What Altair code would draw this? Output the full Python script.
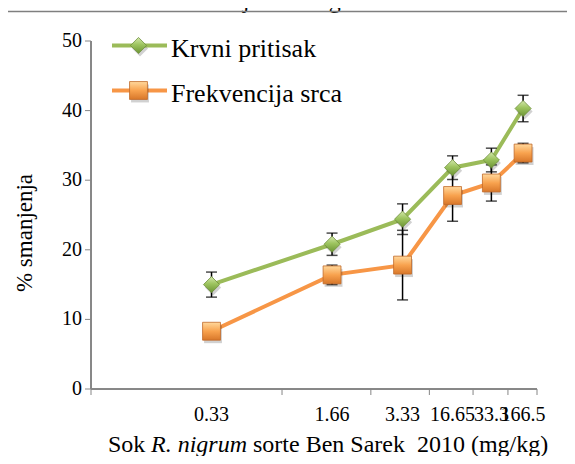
import altair as alt
import pandas as pd

# ---------------- data ----------------
doses = ["0.33", "1.66", "3.33", "16.65", "33.3", "166.5"]
series = ["Krvni pritisak", "Frekvencija srca"]
bp_mean = [15.0, 20.8, 24.4, 31.8, 32.9, 40.3]
bp_err = [1.8, 1.6, 2.2, 1.7, 1.7, 1.9]
hr_mean = [8.3, 16.4, 17.8, 27.8, 29.6, 33.9]
hr_err = [1.0, 1.4, 5.0, 3.7, 2.6, 1.4]
y_ticks = [0, 10, 20, 30, 40, 50]
x_title_parts = ["Sok", "R. nigrum", "sorte Ben Sarek\u00a0 2010 (mg/kg)"]
y_title = "% smanjenja"
top_title = "frekvencija srčanog rada"

GREEN = "#9BBB59"
ORANGE = "#F79646"
AXIS_GRAY = "#868686"
FONT = "Liberation Serif"
W, H = 446, 348

rows = []
for s, means, errs in [(series[0], bp_mean, bp_err), (series[1], hr_mean, hr_err)]:
    for i, (d, m, e) in enumerate(zip(doses, means, errs)):
        rows.append({"idx": i + 1, "dose": d, "series": s, "mean": m,
                     "lo": m - e, "hi": m + e})
df = pd.DataFrame(rows)
xcat = pd.DataFrame({"idx": list(range(1, len(doses) + 1)), "dose": doses})
bounds = pd.DataFrame({"b": [i + 0.5 for i in range(len(doses) + 1)]})
yt = pd.DataFrame({"v": y_ticks})

x_scale = alt.Scale(type="log", domain=[0.5, len(doses) + 0.5], nice=False)
y_scale = alt.Scale(domain=[0, 50], nice=False, zero=True)


def X(field):
    return alt.X(field, scale=x_scale, axis=None)


def Y(field):
    return alt.Y(field, scale=y_scale, axis=None)


color = alt.Color("series:N", scale=alt.Scale(domain=series, range=[GREEN, ORANGE]),
                  legend=None)

base = alt.Chart(df)

# ----- axes drawn with the chart's own scales -----
y_dom = alt.Chart(yt).mark_rule(color=AXIS_GRAY, strokeWidth=1).encode(
    x=alt.value(0), y=alt.value(0), y2=alt.value(H))
y_tk = alt.Chart(yt).mark_rule(color=AXIS_GRAY, strokeWidth=1).encode(
    y=Y("v:Q"), x=alt.value(-6), x2=alt.value(0))
y_lab = alt.Chart(yt).mark_text(align="right", baseline="middle", font=FONT, fontSize=20,
                                color="black").encode(
    y=Y("v:Q"), x=alt.value(-9), text="v:Q")
x_dom = alt.Chart(yt).mark_rule(color=AXIS_GRAY, strokeWidth=1).encode(
    x=alt.value(0), x2=alt.value(W), y=alt.value(H))
x_tk = alt.Chart(bounds).mark_rule(color=AXIS_GRAY, strokeWidth=1).encode(
    x=X("b:Q"), y=alt.value(H), y2=alt.value(H + 6))
x_lab = alt.Chart(xcat).mark_text(align="center", baseline="alphabetic", font=FONT,
                                  fontSize=20, color="black").encode(
    x=X("idx:Q"), y=alt.value(H + 32), text="dose:N")
y_tt = alt.Chart(pd.DataFrame({"t": [y_title]})).mark_text(
    align="center", baseline="middle", angle=270, font=FONT, fontSize=23,
    color="black").encode(text="t:N", x=alt.value(-66), y=alt.value(192))

# ----- data marks -----
lines = base.mark_line(strokeWidth=4).encode(x=X("idx:Q"), y=Y("mean:Q"), color=color)

err = base.mark_rule(color="black", strokeWidth=1.5).encode(
    x=X("idx:Q"), y=Y("lo:Q"), y2="hi:Q")
cap_lo = base.mark_tick(orient="horizontal", size=11, thickness=1.5, color="black").encode(
    x=X("idx:Q"), y=Y("lo:Q"))
cap_hi = base.mark_tick(orient="horizontal", size=11, thickness=1.5, color="black").encode(
    x=X("idx:Q"), y=Y("hi:Q"))

green_grad = alt.LinearGradient(
    gradient="linear", x1=0, x2=0, y1=0, y2=1,
    stops=[alt.GradientStop(color="#d4e8ac", offset=0),
           alt.GradientStop(color="#9dc45f", offset=0.45),
           alt.GradientStop(color="#6c9434", offset=1)])
orange_grad = alt.LinearGradient(
    gradient="linear", x1=0, x2=0, y1=0, y2=1,
    stops=[alt.GradientStop(color="#ffd89c", offset=0),
           alt.GradientStop(color="#f8a24e", offset=0.5),
           alt.GradientStop(color="#d8772a", offset=1)])

SHAPES = [("diamond", 260, green_grad, "#6f8f3c"), ("square", 320, orange_grad, "#c0692a")]


def markers(sname, shape, size, grad, stroke):
    sub = base.transform_filter(alt.datum.series == sname)
    shadow = sub.mark_point(shape=shape, size=size, filled=True, fill="#000000",
                            opacity=0.18, strokeWidth=0, xOffset=1.5, yOffset=3).encode(
        x=X("idx:Q"), y=Y("mean:Q"))
    pts = sub.mark_point(shape=shape, size=size, filled=True, fill=grad, opacity=1,
                         stroke=stroke, strokeWidth=0.8).encode(x=X("idx:Q"), y=Y("mean:Q"))
    return [shadow, pts]


mk_green = markers(series[0], *SHAPES[0])
mk_orange = markers(series[1], *SHAPES[1])

# ----- legend (drawn manually) -----
legend_layers = []
for i, (sname, col) in enumerate(zip(series, [GREEN, ORANGE])):
    shape, size, grad, stroke = SHAPES[i]
    ly = 4.5 + 45 * i
    ldf = alt.Chart(pd.DataFrame({"s": [sname]}))
    legend_layers.append(ldf.mark_rule(color=col, strokeWidth=4).encode(
        x=alt.value(21), x2=alt.value(76), y=alt.value(ly)))
    legend_layers.append(ldf.mark_point(shape=shape, size=size, filled=True, fill="#000000",
                                        opacity=0.18, strokeWidth=0, xOffset=1.5, yOffset=3).encode(
        x=alt.value(47.5), y=alt.value(ly)))
    legend_layers.append(ldf.mark_point(shape=shape, size=size, filled=True, fill=grad,
                                        opacity=1, stroke=stroke, strokeWidth=0.8).encode(
        x=alt.value(47.5), y=alt.value(ly)))
    legend_layers.append(ldf.mark_text(align="left", baseline="alphabetic", font=FONT,
                                       fontSize=26, color="black").encode(
        text="s:N", x=alt.value(80), y=alt.value(ly + 11)))

# ----- x axis title with italic species name -----
t_df = pd.DataFrame({"t": x_title_parts})
title_y = 411
xt1 = alt.Chart(t_df.iloc[[0]]).mark_text(align="left", baseline="alphabetic", font=FONT,
                                           fontSize=24, color="black").encode(
    text="t:N", x=alt.value(17), y=alt.value(title_y))
xt2 = alt.Chart(t_df.iloc[[1]]).mark_text(align="left", baseline="alphabetic", font=FONT,
                                           fontSize=24, fontStyle="italic", color="black").encode(
    text="t:N", x=alt.value(60), y=alt.value(title_y))
xt3 = alt.Chart(t_df.iloc[[2]]).mark_text(align="left", baseline="alphabetic", font=FONT,
                                           fontSize=24, color="black").encode(
    text="t:N", x=alt.value(162), y=alt.value(title_y))

# ----- cropped header text and separator line -----
hdr = alt.Chart(pd.DataFrame({"t": [top_title]}))
hdr_text = hdr.mark_text(align="center", baseline="alphabetic", font=FONT, fontSize=24,
                         color="black").encode(text="t:N", x=alt.value(179), y=alt.value(-33))
hdr_line = hdr.mark_rule(color="#7f7f7f", strokeWidth=1.5).encode(
    x=alt.value(-83), x2=alt.value(476), y=alt.value(-29.5))

chart = alt.layer(
    y_dom, y_tk, y_lab, x_dom, x_tk, x_lab, y_tt,
    lines, err, cap_lo, cap_hi, *mk_green, *mk_orange,
    *legend_layers, xt1, xt2, xt3, hdr_text, hdr_line,
).properties(
    width=W, height=H,
    autosize=alt.AutoSizeParams(type="none"),
    padding={"left": 83, "top": 33, "right": 30, "bottom": 67},
    background="white",
).configure_view(stroke=None)

chart.save("out.html", embed_options={"renderer": "svg", "actions": False})
